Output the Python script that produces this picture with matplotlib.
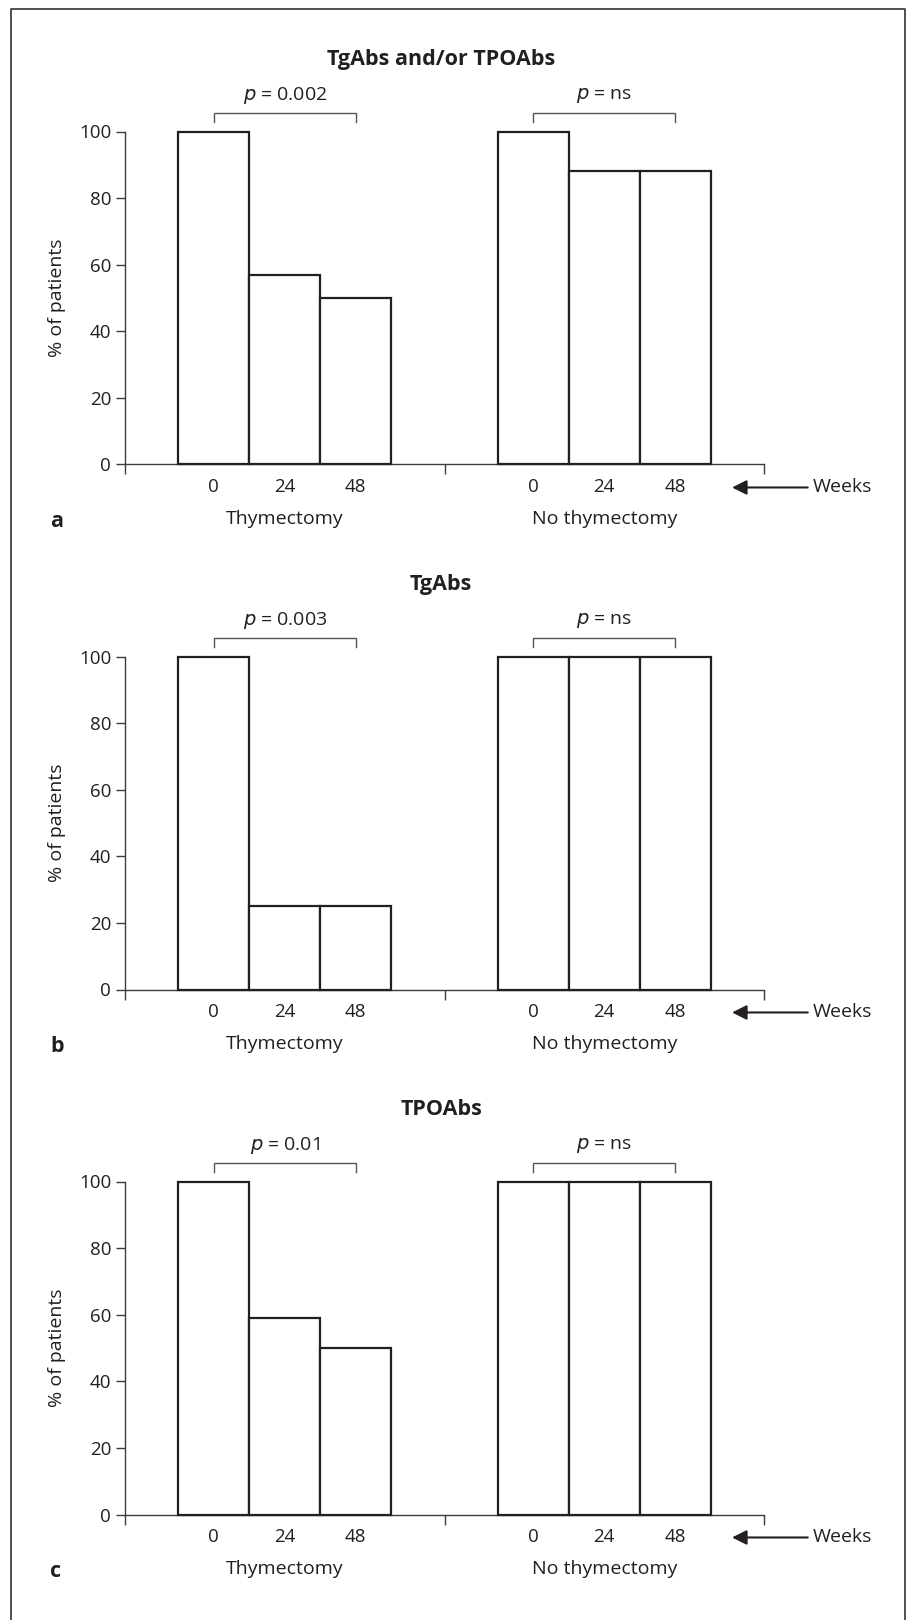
import matplotlib
matplotlib.use("Agg")
import matplotlib.pyplot as plt
from matplotlib.lines import Line2D

plt.rcParams['font.family'] = ['Open Sans', 'DejaVu Sans']

# ---------------- data ----------------
titles = ["TgAbs and/or TPOAbs", "TgAbs", "TPOAbs"]
panel_letters = ["a", "b", "c"]
groups = ["Thymectomy", "No thymectomy"]
weeks = ["0", "24", "48"]
thymectomy_vals = [[100, 57, 50], [100, 25, 25], [100, 59, 50]]
no_thymectomy_vals = [[100, 88, 88], [100, 100, 100], [100, 100, 100]]
p_thymectomy = ["0.002", "0.003", "0.01"]
p_no_thymectomy = ["ns", "ns", "ns"]
yticks = [0, 20, 40, 60, 80, 100]

# ---------------- layout ----------------
W, H = 912, 1620
fig = plt.figure(figsize=(W / 100, H / 100), dpi=100)
TXT = '#231f20'
AXC = '#3c3c3c'

ax_left, ax_right = 125, 764
y0_first, y100_first = 464.5, 131.5
panel_step = 525
bw = 2 / 9

for i in range(3):
    y0 = y0_first + i * panel_step
    y100 = y100_first + i * panel_step
    ax = fig.add_axes([ax_left / W, 1 - y0 / H, (ax_right - ax_left) / W, (y0 - y100) / H])
    ax.set_xlim(0, 2)
    ax.set_ylim(0, 100)
    ax.patch.set_alpha(0)
    for s in ['top', 'right']:
        ax.spines[s].set_visible(False)
    for s in ['left', 'bottom']:
        ax.spines[s].set_color(AXC)
        ax.spines[s].set_linewidth(1.0)

    data = [thymectomy_vals[i], no_thymectomy_vals[i]]
    pvals = [p_thymectomy[i], p_no_thymectomy[i]]
    for g in range(2):
        xs = [g + 0.5 + (k - 1) * bw for k in range(3)]
        ax.bar(xs, data[g], width=bw, facecolor='white', edgecolor=TXT,
               linewidth=1.6, clip_on=False, zorder=3)
        for x, w in zip(xs, weeks):
            ax.text(x, -0.069, w, transform=ax.get_xaxis_transform(),
                    ha='center', va='center', fontsize=13.5, color=TXT)
        ax.text(g + 0.5, -0.165, groups[g], transform=ax.get_xaxis_transform(),
                ha='center', va='center', fontsize=14, color=TXT)
        # bracket
        xb0, xb1 = xs[0], xs[2]
        ax.plot([xb0, xb0, xb1, xb1], [102.8, 105.6, 105.6, 102.8], color='#555555',
                lw=1.0, clip_on=False, solid_joinstyle='miter')
        ax.text((xb0 + xb1) / 2, 110.8, r'$\it{p}$ = ' + pvals[g], ha='center', va='center',
                fontsize=14, color=TXT, clip_on=False)

    ax.set_xticks([0, 1, 2])
    ax.set_xticklabels([])
    ax.tick_params(axis='x', direction='out', length=7, width=1.0, color=AXC)
    ax.set_yticks(yticks)
    ax.set_yticklabels([str(v) for v in yticks], fontsize=13.5, color=TXT)
    ax.tick_params(axis='y', direction='out', length=6.5, width=1.0, color=AXC, pad=3.5)

    ax.text(1.0 - 0.01, 121.5, titles[i], ha='center', va='center', fontsize=15.5,
            fontweight='bold', color=TXT, clip_on=False)
    ax.text(-68 / 639, 0.5, "% of patients", transform=ax.transAxes, rotation=90,
            ha='center', va='center', fontsize=14, color=TXT)
    ax.text(-75 / 639, -0.172, panel_letters[i], transform=ax.transAxes,
            ha='left', va='center', fontsize=15.5, fontweight='bold', color=TXT)

    # Weeks arrow
    ax.annotate("", xy=(1.90, -0.069), xytext=(2.137, -0.069),
                xycoords=ax.get_xaxis_transform(), textcoords=ax.get_xaxis_transform(),
                arrowprops=dict(arrowstyle='-|>', color=TXT, lw=1.5,
                                mutation_scale=22, shrinkA=0, shrinkB=0))
    ax.text(2.152, -0.069, "Weeks", transform=ax.get_xaxis_transform(),
            ha='left', va='center', fontsize=14, color=TXT)

# frame (open at bottom)
fx0, fx1, fy0 = 11.5 / W, 905 / W, 1 - 8.5 / H
fig.add_artist(Line2D([fx0, fx0, fx1, fx1], [0, fy0, fy0, 0], transform=fig.transFigure,
                      color='#333333', lw=1.2))

fig.savefig("out.png", dpi=100)
